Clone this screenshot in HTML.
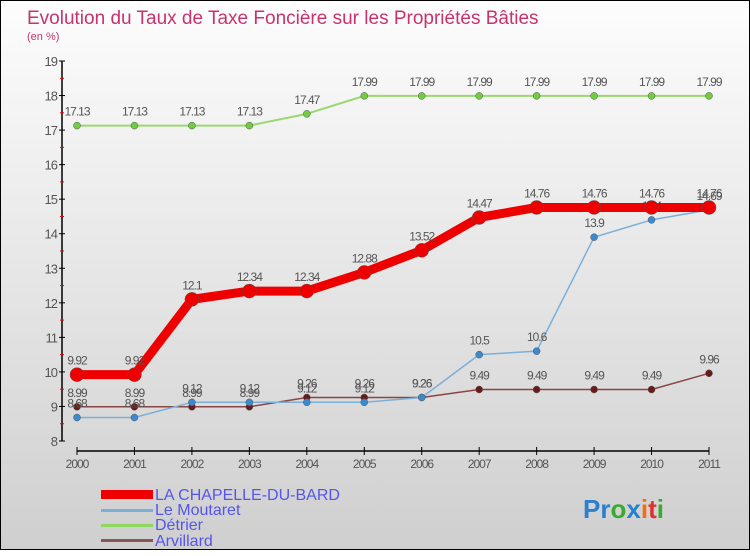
<!DOCTYPE html>
<html><head><meta charset="utf-8"><style>
body{margin:0;width:750px;height:550px;overflow:hidden;font-family:"Liberation Sans",sans-serif}
#c{position:absolute;left:0;top:0;width:748px;height:548px;border:1px solid #000;background:linear-gradient(#fdfdfd,#cfcfcf)}
</style></head><body>
<div id="c">
<svg id="s" width="750" height="550">
<text x="26" y="23" font-size="19" fill="#c8336e">Evolution du Taux de Taxe Foncière sur les Propriétés Bâties</text>
<text x="26" y="39" font-size="11" fill="#c8336e">(en %)</text>
<g id="g"></g>
<g>
<rect x="100" y="489" width="52" height="9" fill="#e00"/>
<rect x="100" y="508" width="52" height="3" fill="#7ab0d8"/>
<rect x="100" y="523" width="52" height="3" fill="#8fd860"/>
<rect x="100" y="538" width="52" height="3" fill="#8a5555"/>
<g font-size="16" fill="#5555ee">
<text x="154" y="499">LA CHAPELLE-DU-BARD</text>
<text x="154" y="514">Le Moutaret</text>
<text x="154" y="529">Détrier</text>
<text x="154" y="545">Arvillard</text>
</g></g>
<text x="582" y="517" font-size="26" font-weight="bold"><tspan fill="#2a7fd0">Pr</tspan><tspan fill="#3aaa30">o</tspan><tspan fill="#2a7fd0">x</tspan><tspan fill="#f07010">i</tspan><tspan fill="#e03030">t</tspan><tspan fill="#3aaa30">i</tspan></text>
</svg></div>
<script>
const years=["2000","2001","2002","2003","2004","2005","2006","2007","2008","2009","2010","2011"];
const yTicks=[8,9,10,11,12,13,14,15,16,17,18,19];
const chapelle=[9.92,9.92,12.1,12.34,12.34,12.88,13.52,14.47,14.76,14.76,14.76,14.76];
const moutaret=[8.68,8.68,9.12,9.12,9.12,9.12,9.26,10.5,10.6,13.9,14.4,14.69];
const detrier=[17.13,17.13,17.13,17.13,17.47,17.99,17.99,17.99,17.99,17.99,17.99,17.99];
const arvillard=[8.99,8.99,8.99,8.99,9.26,9.26,9.26,9.49,9.49,9.49,9.49,9.96];
const NS="http://www.w3.org/2000/svg",g=document.getElementById('g');
const X=i=>76+i*(708-76)/11, Y=v=>440-(v-8)*(380/11);
function mk(t,a){const e=document.createElementNS(NS,t);for(const k in a)e.setAttribute(k,a[k]);g.appendChild(e);return e;}
let e=mk('line',{x1:61,y1:60,x2:61,y2:440,stroke:'#000','stroke-width':1.5});

e=mk('line',{x1:76,y1:450,x2:708,y2:450,stroke:'#000','stroke-width':1.5});

yTicks.forEach(v=>{mk('line',{x1:58,x2:64,y1:Y(v),y2:Y(v),stroke:'#000'});
 if(v<19)mk('line',{x1:59,x2:63,y1:Y(v+0.5),y2:Y(v+0.5),stroke:'#e00'});
 e=mk('text',{x:56,y:Y(v)+5,'text-anchor':'end','font-size':13,fill:'#555','letter-spacing':-1});e.textContent=v;
 });
years.forEach((y,i)=>{mk('line',{x1:X(i),x2:X(i),y1:446,y2:454,stroke:'#000'});
 e=mk('text',{x:X(i),y:467,'text-anchor':'middle','font-size':12,fill:'#555','letter-spacing':-1});e.textContent=y;
 });
function series(d,col,w,r,name,fill){
 e=mk('polyline',{points:d.map((v,i)=>X(i)+','+Y(v)).join(' '),fill:'none',stroke:col,'stroke-width':w,'stroke-linejoin':'round'});
 
 d.forEach((v,i)=>{e=mk('circle',{cx:X(i),cy:Y(v),r:r,fill:fill,stroke:'#555','stroke-width':0.5});
  
  e=mk('text',{x:X(i),y:Y(v)-10,'text-anchor':'middle','font-size':12,fill:'#555','letter-spacing':-1});e.textContent=v;
  });
}
series(detrier,'#9ad870',2,3.5,'detrier','#70cc40');
series(arvillard,'#8a4545',1.5,3.5,'arvillard','#6a1a1a');
series(moutaret,'#7ab0d8',1.5,3.5,'moutaret','#3a8ad0');
series(chapelle,'#ee0000',9,7,'chapelle','#ee0000');
</script></body></html>
